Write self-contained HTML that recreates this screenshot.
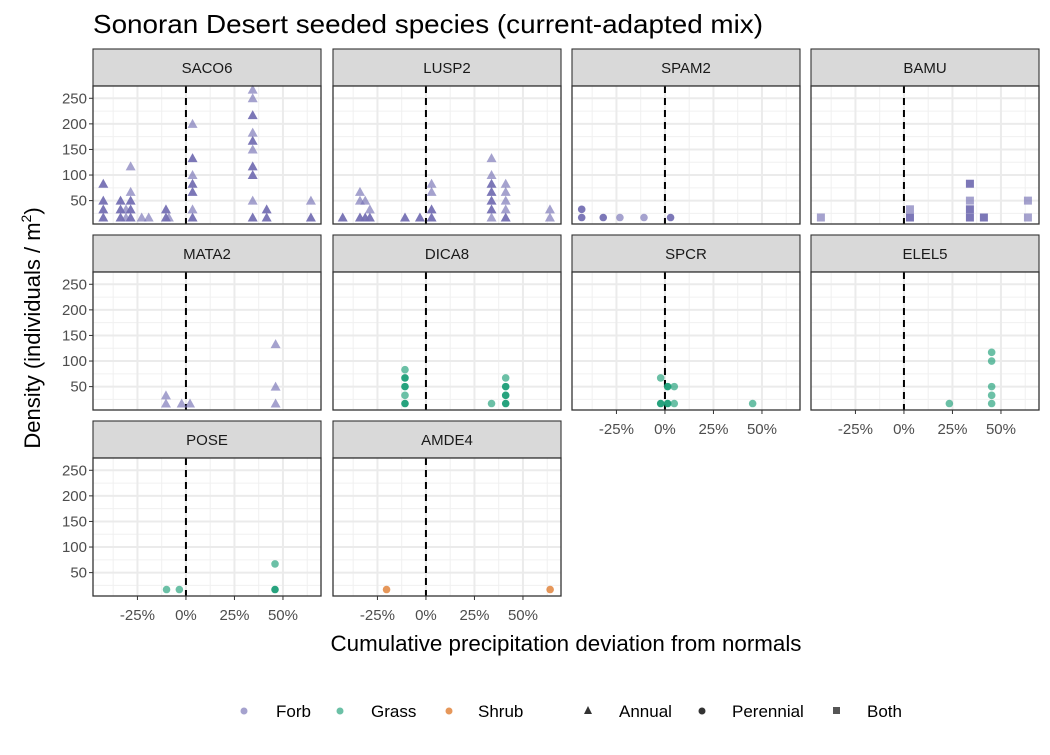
<!DOCTYPE html>
<html><head><meta charset="utf-8"><style>
body{margin:0;background:#fff;width:1050px;height:750px;overflow:hidden;font-family:"Liberation Sans",sans-serif}
</style></head><body>
<svg id="chart" width="1050" height="750" xmlns="http://www.w3.org/2000/svg" font-family="Liberation Sans, sans-serif">
<text x="93" y="33" font-size="26" textLength="670" lengthAdjust="spacingAndGlyphs" fill="#000">Sonoran Desert seeded species (current-adapted mix)</text>
<text transform="translate(40,328) rotate(-90)" text-anchor="middle" font-size="22" fill="#000">Density (individuals / m<tspan font-size="14" dy="-9">2</tspan><tspan dy="9">)</tspan></text>
<text x="566" y="651" text-anchor="middle" font-size="22" textLength="471" lengthAdjust="spacingAndGlyphs" fill="#000">Cumulative precipitation deviation from normals</text>
<g id="panels"></g>
<g font-size="17" fill="#000">
<circle cx="244" cy="711" r="3.5" fill="#7570b3" opacity="0.65"/>
<text x="276" y="717">Forb</text>
<circle cx="340" cy="711" r="3.5" fill="#1b9e77" opacity="0.65"/>
<text x="371" y="717">Grass</text>
<circle cx="449" cy="711" r="3.5" fill="#d95f02" opacity="0.65"/>
<text x="478" y="717">Shrub</text>
<polygon points="588,706 592,714 584,714" fill="#333"/>
<text x="619" y="717">Annual</text>
<circle cx="702" cy="711" r="3.5" fill="#333"/>
<text x="732" y="717">Perennial</text>
<rect x="833" y="707" width="7" height="7" fill="#555"/>
<text x="867" y="717">Both</text>
</g>
</svg>
<script>
const species = ["SACO6","LUSP2","SPAM2","BAMU","MATA2","DICA8","SPCR","ELEL5","POSE","AMDE4"];
const funcGroup = ["Forb","Forb","Forb","Forb","Forb","Grass","Grass","Grass","Grass","Shrub"];
const duration = ["Annual","Annual","Perennial","Both","Annual","Perennial","Perennial","Perennial","Perennial","Perennial"];
const xTicks = [-25,0,25,50];
const yTicks = [50,100,150,200,250];
// per-species data: precip deviation (%), density, overlap-dark flag
const precip = [
 [-42.6,-42.6,-42.6,-42.6,-33.7,-33.7,-33.7,-30.9,-30.9,-28.5,-28.5,-28.5,-28.5,-28.5,-22.8,-19.2,-10.3,-10.3,-8.8,3.4,3.4,3.4,3.4,3.4,3.4,3.4,34.4,34.4,34.4,34.4,34.4,34.4,34.4,34.4,34.4,34.4,41.6,41.6,64.4,64.4],
 [-42.9,-34,-34,-34,-31.3,-31.3,-28.9,-28.9,-10.8,-3.1,2.9,2.9,2.9,2.9,33.8,33.8,33.8,33.8,33.8,33.8,33.8,41.1,41.1,41.1,41.1,41.1,63.9,63.9],
 [-42.9,-42.9,-31.8,-23.2,-10.8,2.9],
 [-42.8,3.1,3.1,34,34,34,34,41.2,63.9,63.9],
 [-10.3,-10.3,-2.2,2.1,46.2,46.2,46.2],
 [-10.8,-10.8,-10.8,-10.8,-10.8,33.8,41.1,41.1,41.1,41.1],
 [-2.2,-2.2,1.4,1.4,4.8,4.8,45.2],
 [23.4,45.2,45.2,45.2,45.2,45.2],
 [-10,-3.4,45.9,45.9],
 [-20.3,64]
];
const density = [
 [17,33,50,83,17,33,50,17,33,17,33,50,67,117,17,17,17,33,17,17,33,67,83,100,133,200,17,50,100,117,150,167,183,217,250,267,17,33,17,50],
 [17,17,50,67,17,50,17,33,17,17,17,33,67,83,17,33,50,67,83,100,133,17,33,50,67,83,17,33],
 [17,33,17,17,17,17],
 [17,17,33,17,33,50,83,17,17,50],
 [17,33,17,17,17,50,133],
 [17,33,50,67,83,17,17,33,50,67],
 [17,67,17,50,17,50,17],
 [17,17,33,50,100,117],
 [17,17,17,67],
 [17,17]
];
const dark = [
 [1,1,1,1,1,1,1,0,0,1,1,1,0,0,0,0,1,1,0,1,0,1,1,0,1,0,1,0,1,1,0,1,0,1,0,0,1,1,1,0],
 [1,1,0,0,1,0,1,0,1,1,1,1,0,0,0,1,1,1,1,0,0,1,0,0,0,0,0,0],
 [1,1,1,0,0,1],
 [0,1,0,1,1,0,1,1,0,0],
 [0,0,0,0,0,0,0],
 [1,0,1,1,0,0,1,1,1,0],
 [1,0,1,1,0,0,0],
 [0,0,0,0,0,0],
 [0,0,1,0],
 [0,0]
];
const colors = {Forb:"#7570b3",Grass:"#1b9e77",Shrub:"#d95f02"};
const NS="http://www.w3.org/2000/svg";
const colX=[93,333,572,811], rowY=[86,272,458], PW=228, PH=138;
const xDom=[-47.9,69.6], yDom=[4.3,274];
function xs(v,x0){return x0+(v-xDom[0])/(xDom[1]-xDom[0])*PW;}
function ys(v,y0){return y0+PH-(v-yDom[0])/(yDom[1]-yDom[0])*PH;}
function mk(tag,attrs,parent){const e=document.createElementNS(NS,tag);for(const k in attrs)e.setAttribute(k,attrs[k]);parent.appendChild(e);return e;}
const root=document.getElementById('panels');
species.forEach((sp,i)=>{
 const c=i%4,r=Math.floor(i/4),x0=colX[c],y0=rowY[r];
 const g=mk('g',{},root);
 
 
 const strip=mk('rect',{x:x0,y:y0-37,width:PW,height:37,fill:"#d9d9d9",stroke:"#333","stroke-width":1.1},g);
 
 
 const st=mk('text',{x:x0+PW/2,y:y0-13,"text-anchor":"middle","font-size":15,fill:"#1a1a1a"},g);st.textContent=sp;
 
 
 mk('rect',{x:x0,y:y0,width:PW,height:PH,fill:"#fff"},g);
 for(let v=-37.5;v<70;v+=25){mk('line',{x1:xs(v,x0),x2:xs(v,x0),y1:y0,y2:y0+PH,stroke:"#f0f0f0","stroke-width":1},g);}
 for(let v=25;v<=275;v+=50){const y=ys(v,y0);if(y>=y0)mk('line',{x1:x0,x2:x0+PW,y1:y,y2:y,stroke:"#f0f0f0","stroke-width":1},g);}
 xTicks.forEach(v=>mk('line',{x1:xs(v,x0),x2:xs(v,x0),y1:y0,y2:y0+PH,stroke:"#ebebeb","stroke-width":2},g));
 yTicks.forEach(v=>mk('line',{x1:x0,x2:x0+PW,y1:ys(v,y0),y2:ys(v,y0),stroke:"#ebebeb","stroke-width":2},g));
 mk('line',{x1:xs(0,x0),x2:xs(0,x0),y1:y0,y2:y0+PH,stroke:"#000","stroke-width":2,"stroke-dasharray":"7,5"},g);
 const col=colors[funcGroup[i]];
 precip[i].forEach((pv,j)=>{
  const px=xs(pv,x0),py=ys(density[i][j],y0),op=dark[i][j]?0.95:0.65;let m;
  if(duration[i]==="Annual")m=mk('polygon',{points:`${px},${py-5} ${px+5},${py+4} ${px-5},${py+4}`,fill:col,opacity:op},g);
  else if(duration[i]==="Both")m=mk('rect',{x:px-4,y:py-4,width:8,height:8,fill:col,opacity:op},g);
  else m=mk('circle',{cx:px,cy:py,r:3.8,fill:col,opacity:op},g);
  
  
 });
 mk('rect',{x:x0,y:y0,width:PW,height:PH,fill:"none",stroke:"#333","stroke-width":1.3},g);
 if(c===0){yTicks.forEach(v=>{const y=ys(v,y0);mk('line',{x1:x0-4,x2:x0,y1:y,y2:y,stroke:"#333"},g);
  const t=mk('text',{x:x0-6,y:y+5,"text-anchor":"end","font-size":15,fill:"#4d4d4d"},g);t.textContent=v;
  
  });}
 if(r===2||(r===1&&c>=2)){xTicks.forEach(v=>{const x=xs(v,x0);mk('line',{x1:x,x2:x,y1:y0+PH,y2:y0+PH+4,stroke:"#333"},g);
  const t=mk('text',{x:x,y:y0+PH+24,"text-anchor":"middle","font-size":15,fill:"#4d4d4d"},g);t.textContent=v+"%";
  
  });}
});
</script>
</body></html>
